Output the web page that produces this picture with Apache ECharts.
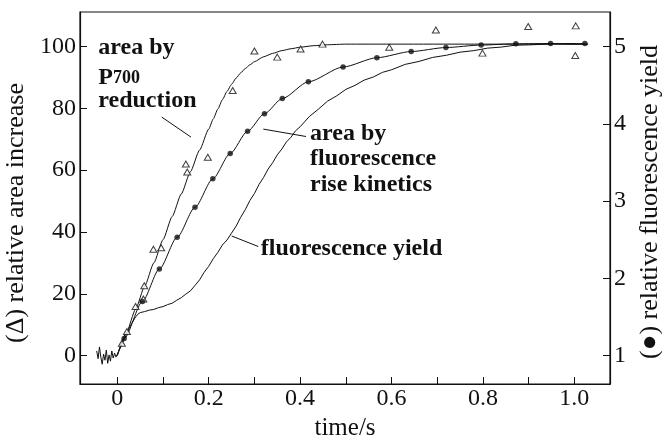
<!DOCTYPE html>
<html>
<head>
<meta charset="utf-8">
<script src="https://cdn.jsdelivr.net/npm/echarts@6/dist/echarts.min.js"></script>
<style>
  html, body { margin: 0; padding: 0; background: #fff; }
  #chart { width: 662px; height: 437px; }
</style>
</head>
<body>
<div id="chart"></div>
<script>
const FONT = '"Liberation Serif", "DejaVu Serif", serif';
const INK = '#111';

// Axis ticks and labels
const timeTicks = [0, 0.1, 0.2, 0.3, 0.4, 0.5, 0.6, 0.7, 0.8, 0.9, 1.0];
const timeLabels = [0, 0.2, 0.4, 0.6, 0.8, 1.0];
const areaTicks = [0, 20, 40, 60, 80, 100];
const yieldTicks = [1, 2, 3, 4, 5];

// Area increase derived from P700 reduction (open triangles)
const triTime = [0.010, 0.021, 0.040, 0.057, 0.059, 0.079, 0.096, 0.150, 0.153, 0.198, 0.2525,
                 0.300, 0.350, 0.401, 0.449, 0.595, 0.697, 0.799, 0.899, 1.003, 1.002];
const triArea = [4.0, 7.8, 15.9, 18.3, 22.6, 34.4, 34.9, 62.0, 59.4, 64.2, 85.8,
                 98.6, 96.6, 99.2, 100.8, 99.8, 105.4, 97.9, 106.5, 106.7, 97.1];

// Fitted curve for the P700 reduction area
const p700Time = [0, 0.02, 0.04, 0.06, 0.08, 0.10, 0.12, 0.14, 0.16, 0.18, 0.20, 0.21, 0.22, 0.23,
                  0.24, 0.25, 0.26, 0.27, 0.28, 0.29, 0.30, 0.32, 0.34, 0.36, 0.38, 0.40, 0.43, 0.46, 0.50, 1.03];
const p700Fit  = [0, 7.5, 15.0, 22.5, 30.0, 37.5, 45.0, 52.3, 59.5, 66.5, 73.3, 76.6, 79.8, 82.8,
                  85.5, 87.8, 89.8, 91.5, 92.9, 94.1, 95.1, 96.7, 97.8, 98.7, 99.3, 99.8, 100.3, 100.6, 100.8, 100.8];

// Area from fluorescence rise kinetics (filled circles); the curve starts at the origin
const dotTime = [0.015, 0.055, 0.092, 0.131, 0.170, 0.209, 0.247, 0.285, 0.322, 0.361,
                 0.418, 0.494, 0.568, 0.643, 0.719, 0.796, 0.872, 0.948, 1.023];
const dotArea = [5.5, 17.5, 28.0, 38.3, 48.0, 57.2, 65.4, 72.6, 78.3, 83.2,
                 88.6, 93.4, 96.4, 98.4, 99.7, 100.5, 100.9, 101.0, 101.0];

// Recorded fluorescence yield trace (right axis)
const fluoTime = [-0.045, -0.042, -0.039, -0.036, -0.033, -0.030, -0.027, -0.024, -0.021, -0.018,
                  -0.015, -0.012, -0.009, -0.006, -0.003, 0.000,
                  0.01, 0.02, 0.03, 0.04, 0.045, 0.05, 0.06, 0.07, 0.08, 0.09,
                  0.10, 0.11, 0.12, 0.13, 0.14, 0.15, 0.16, 0.17, 0.18, 0.19,
                  0.20, 0.21, 0.22, 0.23, 0.24, 0.25, 0.26, 0.27, 0.28, 0.29,
                  0.30, 0.31, 0.32, 0.33, 0.34, 0.35, 0.36, 0.37, 0.38, 0.39,
                  0.40, 0.42, 0.44, 0.46, 0.48, 0.50, 0.52, 0.54, 0.56, 0.58,
                  0.60, 0.63, 0.66, 0.69, 0.72, 0.75, 0.78, 0.81, 0.84, 0.87,
                  0.90, 0.95, 1.00, 1.03];
const fluoYield = [1.06, 0.96, 1.112, 0.98, 0.888, 1.02, 0.94, 1.072, 0.90, 1.008,
                   0.928, 1.06, 0.968, 1.032, 0.98, 1.00,
                   1.14, 1.28, 1.40, 1.50, 1.536, 1.556, 1.570, 1.588, 1.598, 1.620,
                   1.634, 1.660, 1.678, 1.716, 1.750, 1.796, 1.838, 1.908, 1.980, 2.078,
                   2.156, 2.254, 2.336, 2.432, 2.496, 2.586, 2.676, 2.790, 2.890, 3.006,
                   3.098, 3.214, 3.306, 3.414, 3.498, 3.598, 3.674, 3.766, 3.826, 3.910,
                   3.962, 4.094, 4.190, 4.294, 4.362, 4.446, 4.498, 4.566, 4.606, 4.666,
                   4.700, 4.770, 4.808, 4.860, 4.888, 4.928, 4.948, 4.980, 4.994, 5.018,
                   5.022, 5.034, 5.030, 5.032];

// Annotation text lines and leader lines, in (time, area) units
const noteLines = [
  { t: -0.0416, a: 99.7, text: 'area by' },
  { t: -0.0416, a: 90.0, text: '{p|P}{s|700}' },
  { t: -0.0416, a: 82.3, text: 'reduction' },
  { t: 0.4217, a: 71.8, text: 'area by' },
  { t: 0.4217, a: 63.8, text: 'fluorescence' },
  { t: 0.4217, a: 55.2, text: 'rise kinetics' },
  { t: 0.3138, a: 34.5, text: 'fluorescence yield' }
];
const leaders = [
  [[0.0972, 77.2], [0.1613, 70.7]],
  [[0.3195, 73.3], [0.4129, 70.9]],
  [[0.2503, 38.7], [0.3085, 35.3]]
];

const zip = (xs, ys) => xs.map((x, i) => [x, ys[i]]);

const chart = echarts.init(document.getElementById('chart'));

const axisLineStyle = { color: INK, width: 1.2 };

chart.setOption({
  backgroundColor: '#fff',
  animation: false,
  grid: {
    left: 80, right: 52, top: 12, bottom: 53,
    outerBoundsMode: 'none', containLabel: false,
    show: true, borderColor: INK, borderWidth: 1.2, backgroundColor: 'transparent'
  },
  xAxis: {
    type: 'value', min: -0.0816, max: 1.078,
    name: 'time/s', nameLocation: 'middle', nameGap: 32,
    nameTextStyle: { fontFamily: FONT, fontSize: 25, color: INK },
    axisLine: { show: true, onZero: false, lineStyle: axisLineStyle },
    axisTick: { show: true, inside: true, length: 7, customValues: timeTicks, lineStyle: { color: INK, width: 1 } },
    axisLabel: { customValues: timeLabels, margin: 3, fontFamily: FONT, fontSize: 24, color: INK,
                 formatter: v => (v === 0 ? '0' : v.toFixed(1)) },
    splitLine: { show: false }
  },
  yAxis: [
    {
      type: 'value', min: -9.2, max: 111.2, position: 'left',
      name: '(Δ) relative area increase', nameLocation: 'middle', nameGap: 47, nameRotate: 90,
      // title sits a little below the axis midpoint
      nameTextStyle: { fontFamily: FONT, fontSize: 26, color: INK, padding: [0, 30, 0, 0] },
      axisLine: { show: true, onZero: false, lineStyle: axisLineStyle },
      axisTick: { show: true, inside: true, length: 7, customValues: areaTicks, lineStyle: { color: INK, width: 1 } },
      axisLabel: { customValues: areaTicks, margin: 4, fontFamily: FONT, fontSize: 24, color: INK },
      splitLine: { show: false }
    },
    {
      type: 'value', min: 0.632, max: 5.448, position: 'right',
      name: '(●) relative fluorescence yield', nameLocation: 'middle', nameGap: 26, nameRotate: 90,
      nameTextStyle: { fontFamily: FONT, fontSize: 26, color: INK, padding: [0, 8, 0, 0] },
      axisLine: { show: true, onZero: false, lineStyle: axisLineStyle },
      axisTick: { show: true, inside: true, length: 7, customValues: yieldTicks, lineStyle: { color: INK, width: 1 } },
      axisLabel: { customValues: yieldTicks, margin: 4, fontFamily: FONT, fontSize: 24, color: INK },
      splitLine: { show: false }
    }
  ],
  series: [
    {
      name: 'fluorescence yield', type: 'line', yAxisIndex: 1,
      data: zip(fluoTime, fluoYield), showSymbol: false,
      lineStyle: { color: INK, width: 1 }
    },
    {
      name: 'P700 fit', type: 'line', yAxisIndex: 0,
      data: zip(p700Time, p700Fit), showSymbol: false, smooth: 0.2, smoothMonotone: 'x',
      lineStyle: { color: INK, width: 1 }
    },
    {
      name: 'rise kinetics fit', type: 'line', yAxisIndex: 0,
      data: [[0, 0]].concat(zip(dotTime, dotArea)), showSymbol: false, smooth: 0.25, smoothMonotone: 'x',
      lineStyle: { color: INK, width: 1 }
    },
    {
      name: 'P700 area', type: 'scatter', yAxisIndex: 0,
      data: zip(triTime, triArea), symbol: 'triangle', symbolSize: [7, 6],
      itemStyle: { color: '#fff', borderColor: INK, borderWidth: 1 }, z: 5
    },
    {
      name: 'rise kinetics area', type: 'scatter', yAxisIndex: 0,
      data: zip(dotTime, dotArea), symbol: 'circle', symbolSize: 5.5,
      itemStyle: { color: INK }, z: 6
    }
  ]
});

// Annotation labels and leader lines placed from data coordinates
const toPx = p => chart.convertToPixel({ xAxisIndex: 0, yAxisIndex: 0 }, p);
const graphics = [];
noteLines.forEach(n => {
  const [x, y] = toPx([n.t, n.a]);
  graphics.push({
    type: 'text', x: x, y: y, z: 10,
    style: {
      text: n.text, fontFamily: FONT, fontSize: 24, fontWeight: 'bold', fill: INK,
      align: 'left', verticalAlign: 'middle',
      rich: {
        p: { fontFamily: FONT, fontSize: 24, fontWeight: 'bold', fill: INK, verticalAlign: 'bottom' },
        s: { fontFamily: FONT, fontSize: 18, fontWeight: 'bold', fill: INK, verticalAlign: 'bottom',
             padding: [0, 0, 2, 0] }
      }
    }
  });
});
leaders.forEach(seg => {
  const a = toPx(seg[0]);
  const b = toPx(seg[1]);
  graphics.push({
    type: 'line', z: 10,
    shape: { x1: a[0], y1: a[1], x2: b[0], y2: b[1] },
    style: { stroke: INK, lineWidth: 1 }
  });
});
chart.setOption({ graphic: graphics });
</script>
</body>
</html>
